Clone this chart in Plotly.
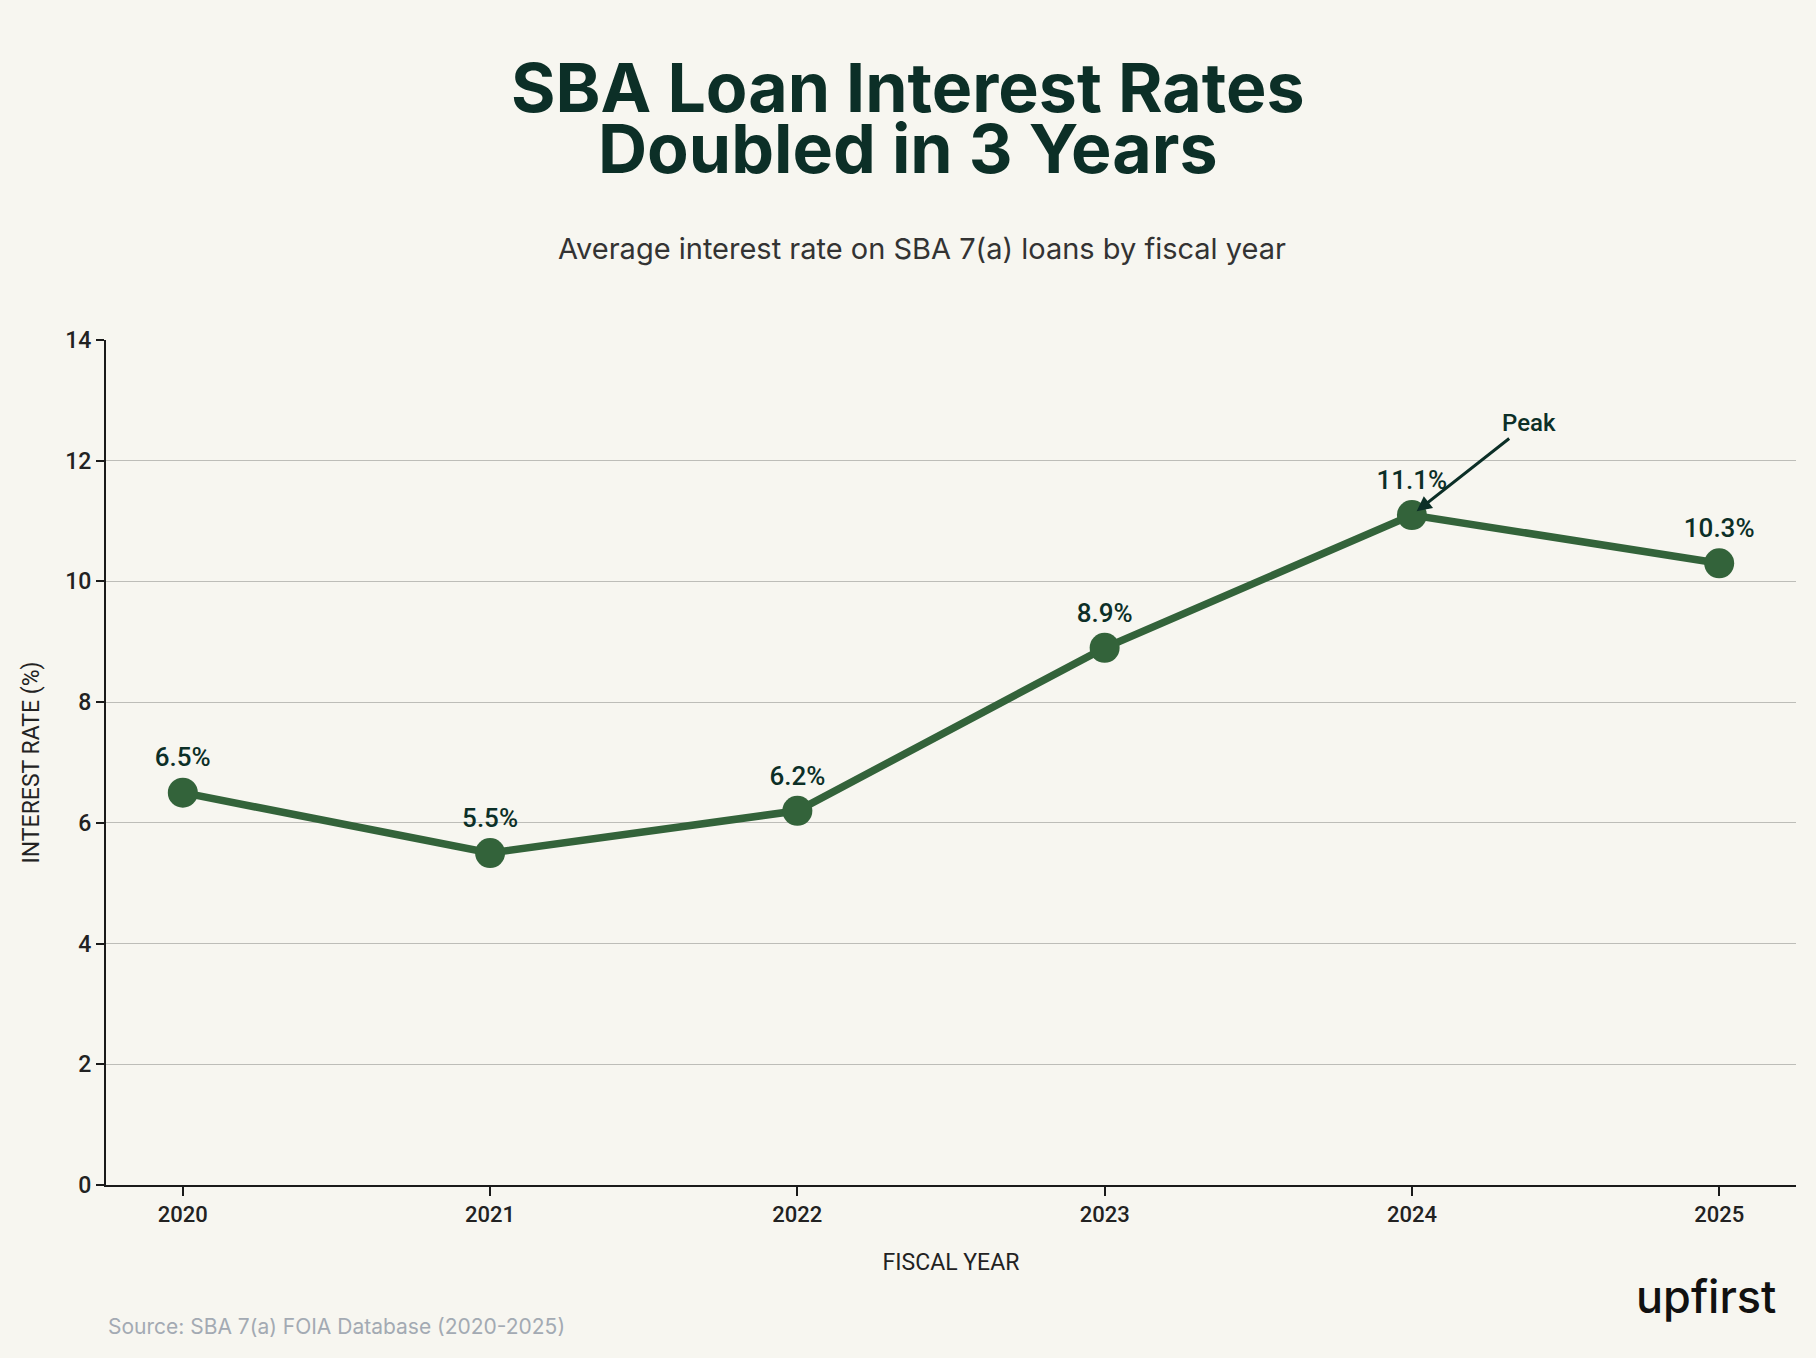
import plotly.graph_objects as go

years = [2020, 2021, 2022, 2023, 2024, 2025]
rates = [6.5, 5.5, 6.2, 8.9, 11.1, 10.3]
labels = ["6.5%", "5.5%", "6.2%", "8.9%", "11.1%", "10.3%"]
y_ticks = [0, 2, 4, 6, 8, 10, 12, 14]

BG = "#f7f6f0"
DARK = "#0c2f27"
LINE = "#33633a"
NARROW = "Roboto, sans-serif"

fig = go.Figure()
fig.add_trace(go.Scatter(
    x=years, y=rates, mode="lines+markers+text",
    line=dict(color=LINE, width=7.5),
    marker=dict(color=LINE, size=30),
    text=labels, textposition="top center",
    textfont=dict(family=NARROW, size=26, color=DARK, weight=500),
    cliponaxis=False, showlegend=False,
))

fig.update_layout(
    width=1816, height=1358,
    paper_bgcolor=BG, plot_bgcolor=BG,
    margin=dict(l=106, r=20, t=340, b=173),
    font=dict(family=NARROW, color="#222"),
    xaxis=dict(
        range=[2019.75, 2025.25], tickvals=years, ticktext=[str(y) for y in years],
        showgrid=False, showline=True, linecolor="#1a1a1a", linewidth=2,
        ticks="outside", ticklen=9, tickwidth=2, tickcolor="#1a1a1a",
        tickfont=dict(family=NARROW, size=22, color="#222", weight=500),
        title=dict(text="FISCAL YEAR", font=dict(family=NARROW, size=23, color="#222"), standoff=27),
        zeroline=False,
    ),
    yaxis=dict(
        range=[0, 14], tickvals=y_ticks,
        showgrid=True, gridcolor="#bdbdb8", gridwidth=1,
        showline=True, linecolor="#1a1a1a", linewidth=2,
        ticks="outside", ticklen=8, tickwidth=2, tickcolor="#1a1a1a",
        tickfont=dict(family=NARROW, size=23, color="#222", weight=500),
        title=dict(text="INTEREST RATE (%)", font=dict(family=NARROW, size=23, color="#222"), standoff=19),
        zeroline=False,
    ),
)

annotations = [
    dict(text="<b>SBA Loan Interest Rates</b>", x=0.4744, y=1.2994, xref="paper", yref="paper",
         showarrow=False, xanchor="center", yanchor="middle",
         font=dict(family="Inter, sans-serif", size=68, color=DARK, weight=800)),
    dict(text="<b>Doubled in 3 Years</b>", x=0.4744, y=1.2272, xref="paper", yref="paper",
         showarrow=False, xanchor="center", yanchor="middle",
         font=dict(family="Inter, sans-serif", size=68, color=DARK, weight=800)),
    dict(text="Average interest rate on SBA 7(a) loans by fiscal year", x=0.483, y=1.1077,
         xref="paper", yref="paper", showarrow=False, xanchor="center", yanchor="middle",
         font=dict(family="Inter, sans-serif", size=29, color="#333")),
    dict(text="Peak", x=2024, y=11.1, xref="x", yref="y", ax=117, ay=-92,
         showarrow=True, arrowhead=2, arrowsize=1, arrowwidth=3, arrowcolor=DARK, standoff=6,
         font=dict(family=NARROW, size=24, color=DARK, weight=500)),
    dict(text="Source: SBA 7(a) FOIA Database (2020-2025)", x=0.0, y=-0.168, xref="paper", yref="paper",
         showarrow=False, xanchor="left", yanchor="middle",
         font=dict(family="Inter, sans-serif", size=21, color="#a3aab3")),
    dict(text="upfirst", x=0.9893, y=-0.1325, xref="paper", yref="paper",
         showarrow=False, xanchor="right", yanchor="middle",
         font=dict(family="Inter, sans-serif", size=45, color="#111", weight=500)),
]
fig.update_layout(annotations=annotations)

fig.write_html("out.html")
